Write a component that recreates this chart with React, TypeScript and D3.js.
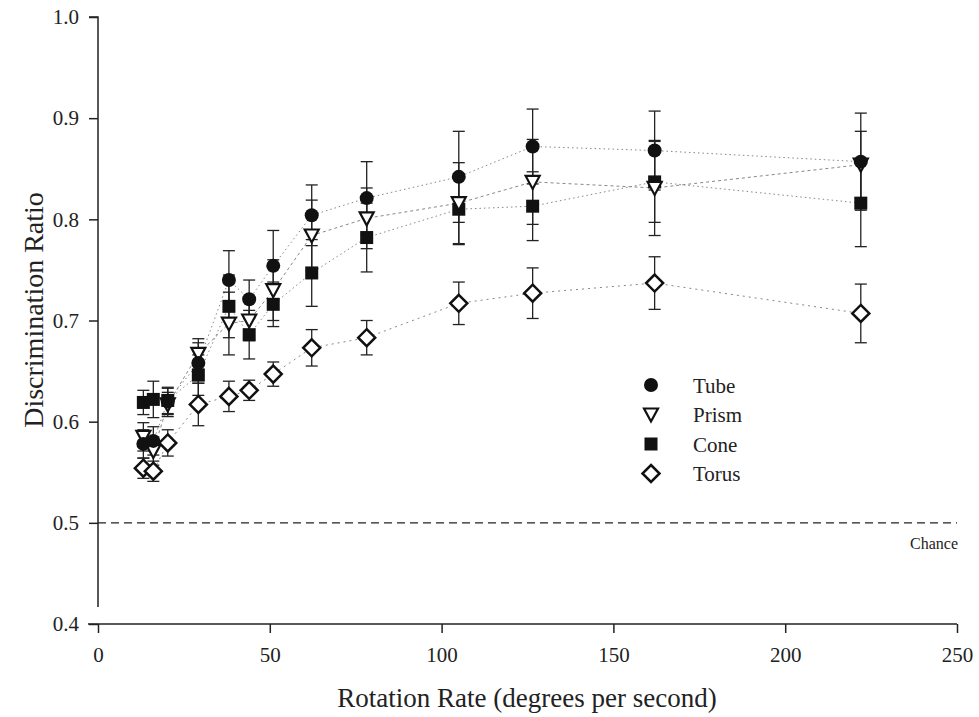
import React, { useEffect, useRef } from 'react';
import * as d3 from 'd3';

const rates = [13.2, 16.1, 20.3, 29.2, 38.1, 44, 51, 62.2, 78.2, 105, 126.5, 162, 222];

const tube = [0.578, 0.581, 0.62, 0.658, 0.74, 0.721, 0.754, 0.804, 0.821, 0.842, 0.872, 0.868, 0.857];
const tubeErr = [0.014, 0.014, 0.013, 0.02, 0.029, 0.019, 0.035, 0.03, 0.036, 0.045, 0.037, 0.039, 0.048];

const prism = [0.585, 0.571, 0.617, 0.667, 0.697, 0.7, 0.73, 0.784, 0.801, 0.816, 0.837, 0.831, 0.854];
const prismErr = [0.014, 0.014, 0.012, 0.015, 0.031, 0.02, 0.03, 0.035, 0.03, 0.04, 0.042, 0.047, 0.033];

const cone = [0.619, 0.622, 0.621, 0.646, 0.714, 0.686, 0.716, 0.747, 0.782, 0.81, 0.813, 0.837, 0.816];
const coneErr = [0.012, 0.018, 0.013, 0.02, 0.031, 0.024, 0.022, 0.033, 0.034, 0.035, 0.034, 0.04, 0.043];

const torus = [0.554, 0.551, 0.579, 0.617, 0.625, 0.631, 0.647, 0.673, 0.683, 0.717, 0.727, 0.737, 0.707];
const torusErr = [0.01, 0.01, 0.013, 0.021, 0.015, 0.01, 0.012, 0.018, 0.017, 0.021, 0.025, 0.026, 0.029];

const xTicks = [0, 50, 100, 150, 200, 250];
const yTicks = [0.4, 0.5, 0.6, 0.7, 0.8, 0.9, 1.0];
const chance = 0.5;

const series = [
  { name: 'Tube', shape: 'circle', values: tube, err: tubeErr, dash: '1.5,3' },
  { name: 'Prism', shape: 'triangle', values: prism, err: prismErr, dash: '3,3' },
  { name: 'Cone', shape: 'square', values: cone, err: coneErr, dash: '1.5,3' },
  { name: 'Torus', shape: 'diamond', values: torus, err: torusErr, dash: '2,4' },
];

const font = "'Liberation Serif', 'Times New Roman', 'DejaVu Serif', serif";

function drawMarker(g: any, shape: string, x: number, y: number) {
  if (shape === 'circle') {
    g.append('circle').attr('cx', x).attr('cy', y).attr('r', 7).attr('fill', '#111');
  } else if (shape === 'square') {
    g.append('rect').attr('x', x - 6.5).attr('y', y - 6.5).attr('width', 13).attr('height', 13).attr('fill', '#111');
  } else if (shape === 'triangle') {
    g.append('path')
      .attr('d', `M${x - 7},${y - 6}L${x + 7},${y - 6}L${x},${y + 7}Z`)
      .attr('fill', 'white').attr('stroke', '#111').attr('stroke-width', 2.2);
  } else {
    g.append('path')
      .attr('d', `M${x},${y - 8.5}L${x + 8.5},${y}L${x},${y + 8.5}L${x - 8.5},${y}Z`)
      .attr('fill', 'white').attr('stroke', '#111').attr('stroke-width', 2.5);
  }
}

const App = () => {
  const svgRef = useRef<SVGSVGElement>(null);

  useEffect(() => {
    const width = 979;
    const height = 717;
    const svg = d3.select(svgRef.current).attr('width', width).attr('height', height);
    svg.selectAll('*').remove();

    const x = d3.scaleLinear().domain([0, 250]).range([98, 957]);
    const y = d3.scaleLinear().domain([0.4, 1.0]).range([624, 17]);

    // axes
    const xAxis = svg.append('g').attr('transform', 'translate(0,624)')
      .call(d3.axisBottom(x).tickValues(xTicks).tickSize(9).tickPadding(14).tickFormat(d3.format('d')));
    const yAxis = svg.append('g').attr('transform', 'translate(98,0)')
      .call(d3.axisLeft(y).tickValues(yTicks).tickSize(9).tickPadding(10).tickFormat(d3.format('.1f')));
    [xAxis, yAxis].forEach(a => {
      a.attr('font-family', null).attr('font-size', null);
      a.select('.domain').attr('stroke', '#222').attr('stroke-width', 1.5);
      a.selectAll('.tick line').attr('stroke', '#222').attr('stroke-width', 1.5);
      a.selectAll('.tick text').style('font-family', font).style('font-size', '21px').attr('fill', '#222');
    });
    xAxis.select('.domain').attr('d', 'M88,0H957');
    yAxis.select('.domain').attr('d', 'M-9,17H0V607');

    // chance line
    svg.append('line')
      .attr('x1', x(0)).attr('x2', x(250)).attr('y1', y(chance)).attr('y2', y(chance))
      .attr('stroke', '#222').attr('stroke-width', 1.3).attr('stroke-dasharray', '8,5');
    svg.append('text').attr('x', 934).attr('y', 549).attr('text-anchor', 'middle')
      .style('font-family', font).style('font-size', '16px').attr('fill', '#222').text('Chance');

    // lines
    series.forEach(s => {
      const line = d3.line<number>().x((_, i) => x(rates[i])).y(d => y(d));
      svg.append('path').attr('d', line(s.values))
        .attr('fill', 'none').attr('stroke', '#888').attr('stroke-width', 1)
        .attr('stroke-dasharray', s.dash);
    });

    // error bars
    series.forEach(s => {
      const g = svg.append('g').attr('stroke', '#222').attr('stroke-width', 1.3);
      s.values.forEach((v, i) => {
        const cx = x(rates[i]);
        const lo = y(v - s.err[i]);
        const hi = y(v + s.err[i]);
        g.append('line').attr('x1', cx).attr('x2', cx).attr('y1', lo).attr('y2', hi);
        g.append('line').attr('x1', cx - 6).attr('x2', cx + 6).attr('y1', lo).attr('y2', lo);
        g.append('line').attr('x1', cx - 6).attr('x2', cx + 6).attr('y1', hi).attr('y2', hi);
      });
    });

    // markers
    [...series].reverse().forEach(s => {
      const g = svg.append('g');
      s.values.forEach((v, i) => drawMarker(g, s.shape, x(rates[i]), y(v)));
    });

    // legend
    const legend = svg.append('g');
    series.forEach((s, i) => {
      const ly = 385 + i * 29.5;
      drawMarker(legend, s.shape, 651, ly);
      legend.append('text').attr('x', 693).attr('y', ly + 7.5)
        .style('font-family', font).style('font-size', '21px').attr('fill', '#222').text(s.name);
    });

    // titles
    svg.append('text').attr('x', 527).attr('y', 707).attr('text-anchor', 'middle')
      .style('font-family', font).style('font-size', '27px').attr('fill', '#222')
      .text('Rotation Rate (degrees per second)');
    svg.append('text').attr('transform', 'translate(43,310) rotate(-90)').attr('text-anchor', 'middle')
      .style('font-family', font).style('font-size', '28px').attr('fill', '#222')
      .text('Discrimination Ratio');
  }, []);

  return (
    <svg ref={svgRef} style={{ position: 'absolute', left: 0, top: 0, background: 'white' }}></svg>
  );
};

export default App;
